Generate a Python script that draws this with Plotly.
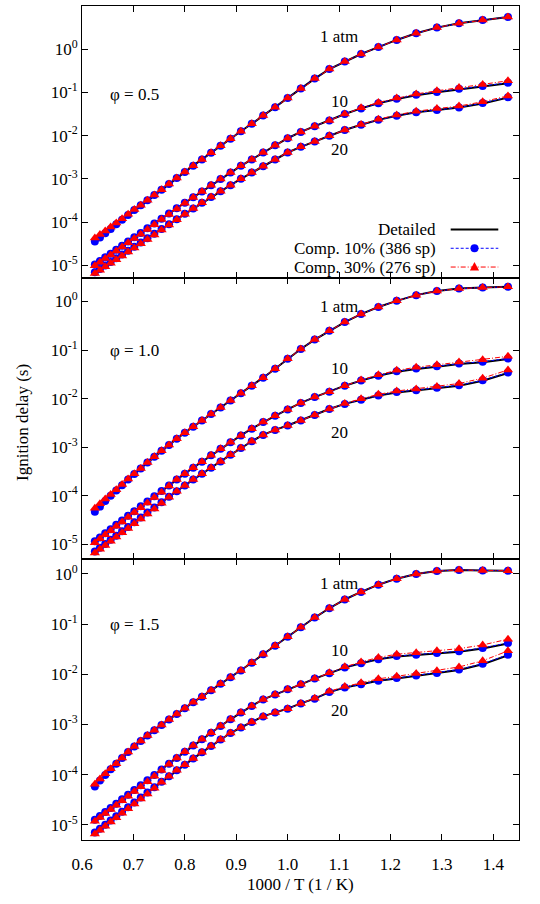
import plotly.graph_objects as go
from plotly.subplots import make_subplots

# ---------------- data ----------------
T_K = [1600, 1575, 1550, 1525, 1500, 1475, 1450, 1425, 1400, 1375, 1350, 1325,
       1300, 1275, 1250, 1225, 1200, 1175, 1150, 1125, 1100, 1075, 1050, 1025,
       1000, 975, 950, 925, 900, 875, 850, 825, 800, 775, 750, 725, 700]
X = [1000.0 / t for t in T_K]

# phi = 0.5
DET_05_1 = [3.63e-5, 4.47e-5, 5.56e-5, 7.00e-5, 8.91e-5, 1.14e-4, 1.46e-4, 1.91e-4, 2.45e-4, 3.20e-4,
            4.22e-4, 5.62e-4, 7.59e-4, 1.05e-3, 1.45e-3, 2.02e-3, 2.82e-3, 4.03e-3, 5.82e-3, 8.51e-3,
            1.26e-2, 1.88e-2, 2.92e-2, 4.57e-2, 7.41e-2, 0.123, 0.209, 0.347, 0.519, 0.776,
            1.12, 1.64, 2.34, 3.16, 3.98, 4.73, 5.56]
C10_05_1 = [3.55e-5, 4.40e-5, 5.50e-5, 6.95e-5, 8.85e-5, 1.13e-4, 1.46e-4, 1.91e-4, 2.45e-4, 3.20e-4,
            4.22e-4, 5.62e-4, 7.59e-4, 1.05e-3, 1.45e-3, 2.02e-3, 2.82e-3, 4.03e-3, 5.82e-3, 8.51e-3,
            1.26e-2, 1.88e-2, 2.92e-2, 4.57e-2, 7.41e-2, 0.123, 0.209, 0.347, 0.519, 0.776,
            1.12, 1.64, 2.34, 3.16, 3.98, 4.73, 5.60]
C30_05_1 = [4.27e-5, 5.13e-5, 6.24e-5, 7.67e-5, 9.55e-5, 1.19e-4, 1.51e-4, 1.95e-4, 2.45e-4, 3.20e-4,
            4.22e-4, 5.62e-4, 7.59e-4, 1.05e-3, 1.45e-3, 2.02e-3, 2.82e-3, 4.03e-3, 5.82e-3, 8.51e-3,
            1.26e-2, 1.88e-2, 2.92e-2, 4.57e-2, 7.41e-2, 0.123, 0.209, 0.347, 0.519, 0.776,
            1.12, 1.64, 2.34, 3.16, 3.98, 4.73, 5.56]
DET_05_10 = [1.05e-5, 1.26e-5, 1.53e-5, 1.86e-5, 2.29e-5, 2.85e-5, 3.55e-5, 4.47e-5, 5.62e-5, 7.16e-5,
             9.23e-5, 1.20e-4, 1.57e-4, 2.09e-4, 2.79e-4, 3.76e-4, 5.13e-4, 7.08e-4, 9.89e-4, 1.40e-3,
             2.00e-3, 2.82e-3, 4.07e-3, 5.96e-3, 8.71e-3, 1.22e-2, 1.64e-2, 2.24e-2, 3.16e-2, 4.27e-2,
             5.62e-2, 7.00e-2, 8.61e-2, 0.101, 0.119, 0.138, 0.164]
C10_05_10 = [1.05e-5, 1.26e-5, 1.53e-5, 1.86e-5, 2.29e-5, 2.85e-5, 3.55e-5, 4.47e-5, 5.62e-5, 7.16e-5,
             9.23e-5, 1.20e-4, 1.57e-4, 2.09e-4, 2.79e-4, 3.76e-4, 5.13e-4, 7.08e-4, 9.89e-4, 1.40e-3,
             2.00e-3, 2.82e-3, 4.07e-3, 5.96e-3, 8.71e-3, 1.22e-2, 1.64e-2, 2.24e-2, 3.16e-2, 4.27e-2,
             5.62e-2, 7.16e-2, 8.80e-2, 0.103, 0.122, 0.141, 0.168]
C30_05_10 = [0.98e-5, 1.18e-5, 1.43e-5, 1.74e-5, 2.14e-5, 2.66e-5, 3.31e-5, 4.17e-5, 5.25e-5, 6.72e-5,
             8.70e-5, 1.14e-4, 1.50e-4, 2.02e-4, 2.72e-4, 3.70e-4, 5.10e-4, 7.08e-4, 9.89e-4, 1.40e-3,
             2.00e-3, 2.82e-3, 4.07e-3, 5.96e-3, 8.71e-3, 1.22e-2, 1.64e-2, 2.24e-2, 3.18e-2, 4.42e-2,
             5.88e-2, 7.41e-2, 9.23e-2, 0.109, 0.130, 0.153, 0.186]
DET_05_20 = [6.92e-6, 8.22e-6, 9.89e-6, 1.19e-5, 1.45e-5, 1.77e-5, 2.18e-5, 2.69e-5, 3.37e-5, 4.25e-5,
             5.40e-5, 6.92e-5, 8.95e-5, 1.17e-4, 1.55e-4, 2.07e-4, 2.79e-4, 3.80e-4, 5.19e-4, 7.16e-4,
             1.00e-3, 1.40e-3, 1.97e-3, 2.82e-3, 4.07e-3, 5.50e-3, 7.33e-3, 1.00e-2, 1.35e-2, 1.78e-2,
             2.32e-2, 2.88e-2, 3.47e-2, 3.94e-2, 4.47e-2, 5.56e-2, 7.59e-2]
C10_05_20 = [6.92e-6, 8.22e-6, 9.89e-6, 1.19e-5, 1.45e-5, 1.77e-5, 2.18e-5, 2.69e-5, 3.37e-5, 4.25e-5,
             5.40e-5, 6.92e-5, 8.95e-5, 1.17e-4, 1.55e-4, 2.07e-4, 2.79e-4, 3.80e-4, 5.19e-4, 7.16e-4,
             1.00e-3, 1.40e-3, 1.97e-3, 2.82e-3, 4.07e-3, 5.50e-3, 7.33e-3, 1.00e-2, 1.35e-2, 1.78e-2,
             2.32e-2, 2.88e-2, 3.47e-2, 3.94e-2, 4.47e-2, 5.68e-2, 7.77e-2]
C30_05_20 = [6.46e-6, 7.67e-6, 9.23e-6, 1.11e-5, 1.35e-5, 1.65e-5, 2.03e-5, 2.51e-5, 3.15e-5, 3.97e-5,
             5.04e-5, 6.52e-5, 8.54e-5, 1.13e-4, 1.52e-4, 2.07e-4, 2.79e-4, 3.80e-4, 5.19e-4, 7.16e-4,
             1.00e-3, 1.40e-3, 1.97e-3, 2.82e-3, 4.07e-3, 5.50e-3, 7.33e-3, 1.00e-2, 1.35e-2, 1.82e-2,
             2.40e-2, 3.02e-2, 3.67e-2, 4.22e-2, 4.84e-2, 6.09e-2, 8.32e-2]

# phi = 1.0
DET_10_1 = [4.79e-5, 6.10e-5, 7.76e-5, 9.89e-5, 1.27e-4, 1.64e-4, 2.14e-4, 2.79e-4, 3.63e-4, 4.79e-4,
            6.31e-4, 8.41e-4, 1.11e-3, 1.48e-3, 1.97e-3, 2.63e-3, 3.51e-3, 4.79e-3, 6.53e-3, 9.12e-3,
            1.29e-2, 1.84e-2, 2.69e-2, 4.12e-2, 6.61e-2, 0.105, 0.164, 0.248, 0.376, 0.550,
            0.767, 1.03, 1.35, 1.64, 1.84, 1.93, 2.00]
C10_10_1 = [4.65e-5, 5.95e-5, 7.76e-5, 9.89e-5, 1.27e-4, 1.64e-4, 2.14e-4, 2.79e-4, 3.63e-4, 4.79e-4,
            6.31e-4, 8.41e-4, 1.11e-3, 1.48e-3, 1.97e-3, 2.63e-3, 3.51e-3, 4.79e-3, 6.53e-3, 9.12e-3,
            1.29e-2, 1.84e-2, 2.69e-2, 4.12e-2, 6.61e-2, 0.105, 0.164, 0.248, 0.376, 0.550,
            0.767, 1.03, 1.35, 1.64, 1.84, 1.93, 2.00]
C30_10_1 = [5.50e-5, 6.84e-5, 8.51e-5, 1.06e-4, 1.33e-4, 1.70e-4, 2.19e-4, 2.82e-4, 3.63e-4, 4.79e-4,
            6.31e-4, 8.41e-4, 1.11e-3, 1.48e-3, 1.97e-3, 2.63e-3, 3.51e-3, 4.79e-3, 6.53e-3, 9.12e-3,
            1.29e-2, 1.84e-2, 2.69e-2, 4.12e-2, 6.61e-2, 0.105, 0.164, 0.248, 0.376, 0.550,
            0.767, 1.03, 1.35, 1.64, 1.84, 1.93, 2.00]
DET_10_10 = [1.15e-5, 1.38e-5, 1.68e-5, 2.04e-5, 2.51e-5, 3.09e-5, 3.85e-5, 4.79e-5, 6.03e-5, 7.59e-5,
             9.66e-5, 1.24e-4, 1.62e-4, 2.14e-4, 2.82e-4, 3.76e-4, 5.01e-4, 6.76e-4, 9.23e-4, 1.26e-3,
             1.74e-3, 2.40e-3, 3.27e-3, 4.42e-3, 5.96e-3, 8.13e-3, 1.07e-2, 1.38e-2, 1.84e-2, 2.34e-2,
             2.95e-2, 3.55e-2, 4.07e-2, 4.52e-2, 5.13e-2, 5.62e-2, 6.53e-2]
C10_10_10 = [1.15e-5, 1.38e-5, 1.68e-5, 2.04e-5, 2.51e-5, 3.09e-5, 3.85e-5, 4.79e-5, 6.03e-5, 7.59e-5,
             9.66e-5, 1.24e-4, 1.62e-4, 2.14e-4, 2.82e-4, 3.76e-4, 5.01e-4, 6.76e-4, 9.23e-4, 1.26e-3,
             1.74e-3, 2.40e-3, 3.27e-3, 4.42e-3, 5.96e-3, 8.13e-3, 1.07e-2, 1.38e-2, 1.84e-2, 2.34e-2,
             2.95e-2, 3.63e-2, 4.16e-2, 4.62e-2, 5.25e-2, 5.75e-2, 6.68e-2]
C30_10_10 = [1.07e-5, 1.29e-5, 1.57e-5, 1.90e-5, 2.34e-5, 2.88e-5, 3.59e-5, 4.47e-5, 5.63e-5, 7.08e-5,
             9.11e-5, 1.18e-4, 1.58e-4, 2.14e-4, 2.82e-4, 3.76e-4, 5.01e-4, 6.76e-4, 9.23e-4, 1.26e-3,
             1.74e-3, 2.40e-3, 3.27e-3, 4.42e-3, 5.96e-3, 8.13e-3, 1.07e-2, 1.38e-2, 1.84e-2, 2.42e-2,
             3.09e-2, 3.81e-2, 4.41e-2, 4.95e-2, 5.69e-2, 6.31e-2, 7.41e-2]
DET_10_20 = [7.08e-6, 8.41e-6, 1.01e-5, 1.23e-5, 1.50e-5, 1.84e-5, 2.26e-5, 2.82e-5, 3.55e-5, 4.47e-5,
             5.69e-5, 7.33e-5, 9.44e-5, 1.23e-4, 1.62e-4, 2.14e-4, 2.82e-4, 3.76e-4, 5.07e-4, 6.92e-4,
             9.55e-4, 1.32e-3, 1.78e-3, 2.26e-3, 2.79e-3, 3.55e-3, 4.57e-3, 6.10e-3, 7.76e-3, 9.44e-3,
             1.15e-2, 1.33e-2, 1.46e-2, 1.62e-2, 1.84e-2, 2.32e-2, 3.35e-2]
C10_10_20 = [7.08e-6, 8.41e-6, 1.01e-5, 1.23e-5, 1.50e-5, 1.84e-5, 2.26e-5, 2.82e-5, 3.55e-5, 4.47e-5,
             5.69e-5, 7.33e-5, 9.44e-5, 1.23e-4, 1.62e-4, 2.14e-4, 2.82e-4, 3.76e-4, 5.07e-4, 6.92e-4,
             9.55e-4, 1.32e-3, 1.78e-3, 2.26e-3, 2.79e-3, 3.55e-3, 4.57e-3, 6.10e-3, 7.76e-3, 9.44e-3,
             1.15e-2, 1.36e-2, 1.49e-2, 1.66e-2, 1.88e-2, 2.38e-2, 3.43e-2]
C30_10_20 = [6.61e-6, 7.85e-6, 9.42e-6, 1.15e-5, 1.40e-5, 1.72e-5, 2.11e-5, 2.63e-5, 3.31e-5, 4.17e-5,
             5.31e-5, 6.99e-5, 9.22e-5, 1.23e-4, 1.62e-4, 2.14e-4, 2.82e-4, 3.76e-4, 5.07e-4, 6.92e-4,
             9.55e-4, 1.32e-3, 1.78e-3, 2.26e-3, 2.79e-3, 3.55e-3, 4.57e-3, 6.10e-3, 7.94e-3, 9.88e-3,
             1.22e-2, 1.43e-2, 1.58e-2, 1.78e-2, 2.04e-2, 2.63e-2, 3.89e-2]

# phi = 1.5
DET_15_1 = [5.89e-5, 7.67e-5, 9.89e-5, 1.29e-4, 1.66e-4, 2.16e-4, 2.82e-4, 3.63e-4, 4.68e-4, 6.03e-4,
            7.67e-4, 9.77e-4, 1.26e-3, 1.62e-3, 2.11e-3, 2.79e-3, 3.59e-3, 4.79e-3, 6.46e-3, 8.71e-3,
            1.19e-2, 1.70e-2, 2.51e-2, 3.72e-2, 5.62e-2, 8.61e-2, 0.135, 0.207, 0.309, 0.437,
            0.610, 0.804, 1.00, 1.14, 1.20, 1.17, 1.16]
C10_15_1 = [5.80e-5, 7.67e-5, 9.89e-5, 1.29e-4, 1.66e-4, 2.16e-4, 2.82e-4, 3.63e-4, 4.68e-4, 6.03e-4,
            7.67e-4, 9.77e-4, 1.26e-3, 1.62e-3, 2.11e-3, 2.79e-3, 3.59e-3, 4.79e-3, 6.46e-3, 8.71e-3,
            1.19e-2, 1.70e-2, 2.51e-2, 3.72e-2, 5.62e-2, 8.61e-2, 0.135, 0.207, 0.309, 0.437,
            0.610, 0.804, 1.00, 1.14, 1.20, 1.17, 1.16]
C30_15_1 = [6.46e-5, 8.22e-5, 1.04e-4, 1.32e-4, 1.66e-4, 2.16e-4, 2.82e-4, 3.63e-4, 4.68e-4, 6.03e-4,
            7.67e-4, 9.77e-4, 1.26e-3, 1.62e-3, 2.11e-3, 2.79e-3, 3.59e-3, 4.79e-3, 6.46e-3, 8.71e-3,
            1.19e-2, 1.70e-2, 2.51e-2, 3.72e-2, 5.62e-2, 8.61e-2, 0.135, 0.207, 0.309, 0.437,
            0.610, 0.804, 1.00, 1.14, 1.20, 1.17, 1.16]
DET_15_10 = [1.26e-5, 1.50e-5, 1.80e-5, 2.16e-5, 2.63e-5, 3.24e-5, 3.98e-5, 4.95e-5, 6.17e-5, 7.76e-5,
             9.89e-5, 1.27e-4, 1.66e-4, 2.16e-4, 2.85e-4, 3.80e-4, 5.07e-4, 6.84e-4, 9.33e-4, 1.27e-3,
             1.74e-3, 2.34e-3, 3.16e-3, 3.98e-3, 5.01e-3, 6.31e-3, 8.22e-3, 1.05e-2, 1.36e-2, 1.66e-2,
             2.00e-2, 2.26e-2, 2.40e-2, 2.60e-2, 2.82e-2, 3.27e-2, 4.12e-2]
C10_15_10 = [1.26e-5, 1.50e-5, 1.80e-5, 2.16e-5, 2.63e-5, 3.24e-5, 3.98e-5, 4.95e-5, 6.17e-5, 7.76e-5,
             9.89e-5, 1.27e-4, 1.66e-4, 2.16e-4, 2.85e-4, 3.80e-4, 5.07e-4, 6.84e-4, 9.33e-4, 1.27e-3,
             1.74e-3, 2.34e-3, 3.16e-3, 3.98e-3, 5.01e-3, 6.31e-3, 8.22e-3, 1.05e-2, 1.36e-2, 1.66e-2,
             2.00e-2, 2.31e-2, 2.46e-2, 2.66e-2, 2.89e-2, 3.35e-2, 4.22e-2]
C30_15_10 = [1.18e-5, 1.40e-5, 1.68e-5, 2.02e-5, 2.45e-5, 3.02e-5, 3.71e-5, 4.62e-5, 5.76e-5, 7.24e-5,
             9.33e-5, 1.21e-4, 1.62e-4, 2.16e-4, 2.85e-4, 3.80e-4, 5.07e-4, 6.84e-4, 9.33e-4, 1.27e-3,
             1.74e-3, 2.34e-3, 3.16e-3, 3.98e-3, 5.01e-3, 6.31e-3, 8.22e-3, 1.07e-2, 1.41e-2, 1.76e-2,
             2.17e-2, 2.51e-2, 2.69e-2, 2.95e-2, 3.24e-2, 3.84e-2, 5.01e-2]
DET_15_20 = [7.08e-6, 8.41e-6, 1.01e-5, 1.22e-5, 1.48e-5, 1.82e-5, 2.24e-5, 2.79e-5, 3.51e-5, 4.42e-5,
             5.62e-5, 7.24e-5, 9.33e-5, 1.22e-4, 1.58e-4, 2.09e-4, 2.79e-4, 3.72e-4, 5.01e-4, 6.76e-4,
             8.71e-4, 1.12e-3, 1.45e-3, 1.74e-3, 2.07e-3, 2.63e-3, 3.27e-3, 4.42e-3, 5.43e-3, 6.31e-3,
             7.41e-3, 8.22e-3, 9.23e-3, 1.04e-2, 1.22e-2, 1.58e-2, 2.40e-2]
C10_15_20 = [7.08e-6, 8.41e-6, 1.01e-5, 1.22e-5, 1.48e-5, 1.82e-5, 2.24e-5, 2.79e-5, 3.51e-5, 4.42e-5,
             5.62e-5, 7.24e-5, 9.33e-5, 1.22e-4, 1.58e-4, 2.09e-4, 2.79e-4, 3.72e-4, 5.01e-4, 6.76e-4,
             8.71e-4, 1.12e-3, 1.45e-3, 1.74e-3, 2.07e-3, 2.63e-3, 3.27e-3, 4.42e-3, 5.43e-3, 6.31e-3,
             7.41e-3, 8.41e-3, 9.44e-3, 1.06e-2, 1.25e-2, 1.62e-2, 2.46e-2]
C30_15_20 = [6.61e-6, 7.85e-6, 9.42e-6, 1.14e-5, 1.38e-5, 1.70e-5, 2.09e-5, 2.60e-5, 3.28e-5, 4.12e-5,
             5.37e-5, 7.08e-5, 9.33e-5, 1.22e-4, 1.58e-4, 2.09e-4, 2.79e-4, 3.72e-4, 5.01e-4, 6.76e-4,
             8.71e-4, 1.12e-3, 1.45e-3, 1.74e-3, 2.07e-3, 2.63e-3, 3.35e-3, 4.57e-3, 5.69e-3, 6.76e-3,
             8.12e-3, 9.12e-3, 1.04e-2, 1.18e-2, 1.40e-2, 1.86e-2, 2.93e-2]

PANELS = [
    {"phi": "0.5", "det": [DET_05_1, DET_05_10, DET_05_20],
     "c10": [C10_05_1, C10_05_10, C10_05_20], "c30": [C30_05_1, C30_05_10, C30_05_20]},
    {"phi": "1.0", "det": [DET_10_1, DET_10_10, DET_10_20],
     "c10": [C10_10_1, C10_10_10, C10_10_20], "c30": [C30_10_1, C30_10_10, C30_10_20]},
    {"phi": "1.5", "det": [DET_15_1, DET_15_10, DET_15_20],
     "c10": [C10_15_1, C10_15_10, C10_15_20], "c30": [C30_15_1, C30_15_10, C30_15_20]},
]
PRESSURE_LABELS = ["1 atm", "10", "20"]
LEGEND_LABELS = ["Detailed", "Comp. 10% (386 sp)", "Comp. 30% (276 sp)"]

X_TICKS = [0.6, 0.7, 0.8, 0.9, 1.0, 1.1, 1.2, 1.3, 1.4]
Y_TICKS = [1e-5, 1e-4, 1e-3, 1e-2, 1e-1, 1e0]
Y_TICKTEXT = ["10<sup>-5</sup>", "10<sup>-4</sup>", "10<sup>-3</sup>",
              "10<sup>-2</sup>", "10<sup>-1</sup>", "10<sup>0</sup>"]
Y_RANGES = [[-5.301, 1.0], [-5.301, 0.477], [-5.301, 0.301]]  # log10 ranges
# label positions (x in 1000/T, y in log10 units)
PHI_POS = [(0.651, -1.04), (0.651, -1.0), (0.651, -1.0)]
P_POS = [[(1.10, 0.30), (1.10, -1.22), (1.10, -2.31)],
         [(1.10, -0.11), (1.10, -1.39), (1.10, -2.69)],
         [(1.10, -0.20), (1.10, -1.52), (1.10, -2.72)]]

FONT = "Liberation Serif"
FS = 17
BLUE = "#0000ff"
RED = "#ff0000"
BLUE_DASH = "3px,2px"
RED_DASH = "5px,2px,1px,2px"

fig = make_subplots(rows=3, cols=1, shared_xaxes=True, vertical_spacing=0,
                    row_heights=[272.3, 280.5, 281.2])

for r, pan in enumerate(PANELS, start=1):
    for ys in pan["det"]:
        fig.add_trace(go.Scatter(x=X, y=ys, mode="lines",
                                 line=dict(color="black", width=2),
                                 showlegend=False, hoverinfo="skip"), row=r, col=1)
    for ys in pan["c10"]:
        fig.add_trace(go.Scatter(x=X, y=ys, mode="lines+markers",
                                 line=dict(color=BLUE, width=1, dash=BLUE_DASH),
                                 marker=dict(symbol="circle", size=8, color=BLUE),
                                 showlegend=False, hoverinfo="skip"), row=r, col=1)
    for ys in pan["c30"]:
        fig.add_trace(go.Scatter(x=X, y=ys, mode="lines+markers",
                                 line=dict(color=RED, width=1, dash=RED_DASH),
                                 marker=dict(symbol="triangle-up", size=9, color=RED),
                                 showlegend=False, hoverinfo="skip"), row=r, col=1)

    fig.update_yaxes(type="log", range=Y_RANGES[r - 1], tickvals=Y_TICKS, ticktext=Y_TICKTEXT,
                     ticks="inside", ticklen=6, tickcolor="black", mirror="ticks",
                     showline=True, linecolor="black", linewidth=1,
                     tickfont=dict(size=FS),
                     showgrid=False, zeroline=False, row=r, col=1)
    fig.update_xaxes(range=[0.6, 1.45], tickvals=X_TICKS,
                     ticktext=["%.1f" % v for v in X_TICKS],
                     ticks="inside", ticklen=6, tickcolor="black", mirror="ticks",
                     showline=True, linecolor="black", linewidth=1,
                     tickfont=dict(size=FS),
                     showgrid=False, zeroline=False, row=r, col=1)

    xref = "x" if r == 1 else "x%d" % r
    yref = "y" if r == 1 else "y%d" % r
    fig.add_annotation(x=PHI_POS[r - 1][0], y=PHI_POS[r - 1][1], xref=xref, yref=yref,
                       text="\u03c6 = " + pan["phi"], showarrow=False,
                       xanchor="left", yanchor="middle", font=dict(size=FS))
    for (px, py), lab in zip(P_POS[r - 1], PRESSURE_LABELS):
        fig.add_annotation(x=px, y=py, xref=xref, yref=yref, text=lab, showarrow=False,
                           xanchor="center", yanchor="middle", font=dict(size=FS))

fig.update_xaxes(showticklabels=True, ticklabelstandoff=9, row=3, col=1)

# axis titles
fig.add_annotation(x=0.5, y=0, xref="paper", yref="paper", text="1000 / T (1 / K)",
                   showarrow=False, xanchor="center", yanchor="middle", yshift=-44,
                   font=dict(size=FS))
fig.add_annotation(x=0, y=0.5, xref="paper", yref="paper", text="Ignition delay (s)",
                   showarrow=False, textangle=-90, xanchor="center", yanchor="middle",
                   xshift=-60, font=dict(size=FS))

# manual gnuplot-style key (text left, sample right) in the top panel
KEY_Y = [0.7320, 0.7095, 0.6870]
KEY_TX = 0.8146
KEY_X0, KEY_X1 = 0.8437, 0.9526
KEY_MX = (KEY_X0 + KEY_X1) / 2
styles = [dict(color="black", width=2), dict(color=BLUE, width=1, dash=BLUE_DASH),
          dict(color=RED, width=1, dash=RED_DASH)]
for ky, lab, st in zip(KEY_Y, LEGEND_LABELS, styles):
    fig.add_annotation(x=KEY_TX, y=ky, xref="paper", yref="paper", text=lab, showarrow=False,
                       xanchor="right", yanchor="middle", font=dict(size=FS))
    fig.add_shape(type="line", xref="paper", yref="paper", x0=KEY_X0, x1=KEY_X1,
                  y0=ky, y1=ky, line=st)
dx, dy = 4.0 / 437, 4.0 / 834
fig.add_shape(type="circle", xref="paper", yref="paper",
              x0=KEY_MX - dx, x1=KEY_MX + dx, y0=KEY_Y[1] - dy, y1=KEY_Y[1] + dy,
              fillcolor=BLUE, line=dict(color=BLUE, width=0))
tx, tt, tb = 4.6 / 437, 5.0 / 834, 3.4 / 834
fig.add_shape(type="path", xref="paper", yref="paper",
              path="M %f,%f L %f,%f L %f,%f Z" % (KEY_MX - tx, KEY_Y[2] - tb,
                                                  KEY_MX + tx, KEY_Y[2] - tb,
                                                  KEY_MX, KEY_Y[2] + tt),
              fillcolor=RED, line=dict(color=RED, width=0))

fig.update_layout(width=540, height=904, margin=dict(l=82, r=21, t=6, b=64),
                  paper_bgcolor="white", plot_bgcolor="white",
                  font=dict(family=FONT, size=FS, color="black"),
                  showlegend=False, hovermode=False)

fig.write_html("out.html", config={"displayModeBar": False, "staticPlot": True},
               post_script="document.body.style.margin='0';document.body.style.overflow='hidden';")
